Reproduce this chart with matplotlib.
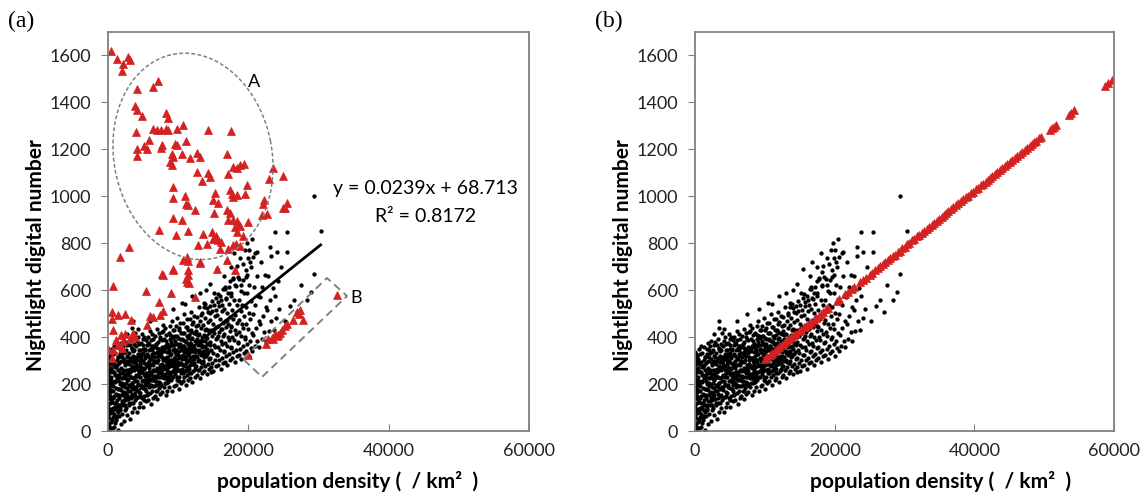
import numpy as np
import matplotlib.pyplot as plt

plt.rcParams['font.family'] = ['Lato', 'DejaVu Sans']

# ---- data (population density, nightlight DN) ----

# black points, dense band x < 9500
black_left = [
    (50, 5), (120, 20), (300, 12), (80, 35), (420, 40), (200, 55), (30, 70), (350, 78), (150, 90), (460, 95),
    (60, 110), (260, 118), (400, 130), (110, 140), (320, 150), (20, 160), (220, 168), (480, 175), (90, 188),
    (380, 195), (170, 205), (10, 215), (290, 222), (440, 230), (70, 240), (240, 250), (360, 258), (130, 265),
    (470, 270), (30, 280), (200, 288), (330, 295), (100, 302), (410, 308), (50, 315), (260, 320), (160, 330),
    (0, 338), (380, 262), (0, 100), (0, 180), (0, 250), (0, 30), (250, 0), (450, 300),
    (620, 12), (1380, 5), (980, 33), (540, 48), (1210, 57), (860, 71), (1460, 80), (700, 96), (1030, 104),
    (580, 123), (1320, 131), (910, 147), (1130, 156), (660, 169), (1420, 178), (780, 193), (1060, 207),
    (530, 214), (1270, 226), (940, 238), (710, 251), (1390, 259), (1150, 271), (600, 284), (840, 292),
    (1240, 303), (1480, 316), (690, 327), (1010, 334), (560, 349), (1330, 356), (880, 362), (1190, 118),
    (760, 61), (1090, 183), (1440, 231), (640, 199), (820, 17), (1280, 90), (970, 276),
    (1840, 28), (2270, 44), (1560, 63), (2030, 71), (2420, 88), (1710, 99), (2150, 112), (1930, 127),
    (2360, 141), (1620, 152), (2080, 164), (1790, 176), (2480, 189), (2210, 197), (1530, 211), (1980, 226),
    (2330, 233), (1680, 247), (2120, 259), (1870, 268), (2440, 282), (1590, 291), (2260, 306), (2000, 314),
    (1750, 329), (2390, 337), (1650, 351), (2170, 362), (1920, 374), (2310, 384), (1770, 110), (2050, 190),
    (1580, 240), (2460, 160), (1890, 300),
    (3180, 52), (2720, 68), (3420, 81), (2580, 97), (3010, 109), (3290, 121), (2850, 136), (2530, 147),
    (3360, 158), (3090, 171), (2680, 182), (2960, 194), (3470, 203), (2790, 219), (3220, 228), (2560, 241),
    (3120, 253), (2890, 262), (3400, 277), (2640, 289), (3050, 297), (3310, 311), (2760, 319), (2990, 333),
    (2600, 344), (3440, 353), (3150, 368), (2830, 381), (3260, 393), (2700, 412), (3380, 438), (2920, 240),
    (3230, 140),
    (4120, 82), (3680, 97), (4390, 104), (3540, 121), (3910, 133), (4270, 146), (3790, 154), (4480, 168),
    (3620, 179), (4050, 186), (4330, 201), (3850, 213), (3570, 226), (4190, 234), (4440, 247), (3730, 258),
    (3980, 271), (4360, 279), (3600, 293), (4080, 302), (3820, 317), (4240, 326), (3520, 339), (4420, 347),
    (3940, 361), (3690, 372), (4150, 384), (4310, 399), (3800, 416), (4220, 435), (3660, 265), (4020, 140),
    (5030, 103), (4620, 118), (5380, 126), (4830, 139), (5190, 151), (4540, 163), (5460, 172), (4970, 184),
    (4710, 195), (5280, 207), (5090, 219), (4590, 228), (5350, 241), (4880, 252), (5150, 264), (4660, 273),
    (5420, 286), (4930, 297), (5220, 309), (4760, 318), (5050, 331), (4570, 343), (5310, 351), (4990, 366),
    (4690, 377), (5400, 389), (5120, 402), (4840, 414), (5260, 180), (4620, 300),
    (6170, 117), (5730, 131), (6440, 140), (5580, 152), (5960, 164), (6290, 171), (5840, 186), (6060, 197),
    (5520, 209), (6380, 217), (5690, 232), (6130, 239), (5910, 253), (6470, 262), (5610, 276), (6240, 284),
    (5790, 297), (6020, 306), (6340, 321), (5550, 330), (5880, 343), (6190, 352), (6420, 363), (5740, 377),
    (6080, 386), (5640, 402), (6310, 415), (5990, 428), (5820, 250), (6260, 330),
    (7040, 136), (6630, 151), (7370, 158), (6850, 172), (7210, 183), (6540, 191), (7460, 204), (6910, 213),
    (7120, 228), (6720, 236), (7300, 247), (6580, 261), (7000, 268), (7420, 281), (6790, 292), (7170, 303),
    (6660, 314), (7350, 321), (6950, 336), (7230, 348), (6560, 357), (6880, 371), (7080, 379), (7440, 392),
    (6700, 406), (7260, 417), (6960, 433), (6620, 300), (7330, 200),
    (8210, 152), (7660, 166), (8420, 171), (7920, 187), (7530, 198), (8080, 206), (8340, 221), (7760, 229),
    (8150, 243), (7590, 254), (8470, 261), (7990, 276), (7700, 284), (8270, 297), (7870, 309), (8390, 316),
    (7560, 331), (8040, 339), (7810, 353), (8190, 364), (8460, 372), (7640, 386), (7950, 394), (8310, 408),
    (7740, 421), (8100, 437), (7900, 452), (8370, 245), (7580, 340),
    (9130, 170), (8680, 186), (9420, 192), (8560, 207), (8940, 216), (9280, 231), (8770, 239), (9050, 253),
    (9460, 261), (8620, 272), (9190, 283), (8870, 294), (8530, 305), (9340, 313), (9010, 326), (8720, 337),
    (9240, 346), (8590, 358), (9400, 367), (8980, 381), (8810, 392), (9160, 404), (8650, 418), (9310, 429),
    (8900, 447), (9080, 468), (9450, 300), (8740, 220),
]

# black points, band 9500 - 20500
black_mid = [
    (10080, 181), (9640, 196), (10380, 203), (9820, 219), (10190, 228), (9530, 241), (10450, 249), (9920, 262),
    (9710, 271), (10290, 285), (10030, 293), (9580, 306), (10410, 314), (9860, 327), (10150, 339), (9680, 346),
    (10340, 359), (9960, 371), (9550, 383), (10220, 391), (9790, 406), (10470, 418), (10060, 431), (9620, 446),
    (10310, 459), (9890, 482), (10130, 260), (9750, 370),
    (11060, 197), (10640, 211), (11390, 219), (10820, 231), (11210, 240), (10530, 254), (11460, 263),
    (10950, 275), (10710, 283), (11290, 297), (11010, 308), (10580, 319), (11410, 327), (10860, 339),
    (11140, 351), (10680, 362), (11340, 371), (10920, 384), (10560, 393), (11230, 406), (10780, 418),
    (11470, 431), (11050, 444), (10620, 461), (11310, 478), (10890, 497),
    (12030, 210), (11620, 226), (12390, 231), (11830, 246), (12180, 257), (11540, 263), (12460, 277),
    (11940, 286), (11720, 298), (12290, 307), (12070, 319), (11580, 331), (12420, 338), (11860, 352),
    (12140, 361), (11680, 373), (12350, 384), (11990, 396), (11560, 407), (12240, 419), (11790, 432),
    (12480, 446), (12050, 463), (11640, 478), (12310, 492), (11900, 508),
    (13070, 226), (12640, 240), (13410, 249), (12850, 259), (13220, 271), (12540, 279), (13470, 291),
    (12960, 302), (12720, 314), (13300, 322), (13040, 334), (12590, 343), (13380, 357), (12880, 366),
    (13160, 378), (12680, 390), (13440, 401), (12990, 413), (12560, 426), (13250, 438), (12800, 453),
    (13110, 468), (12620, 486), (13350, 504), (12920, 528),
    (14040, 241), (13630, 255), (14380, 263), (13840, 276), (14210, 284), (13550, 297), (14460, 305),
    (13950, 318), (13720, 329), (14280, 338), (14090, 351), (13590, 362), (14410, 373), (13880, 385),
    (14160, 398), (13680, 409), (14350, 422), (13990, 436), (13570, 450), (14240, 466), (13810, 483),
    (14470, 501), (14060, 522), (13650, 546), (14300, 430),
    (15010, 256), (14620, 271), (15390, 279), (14830, 290), (15190, 301), (14560, 313), (15470, 322),
    (14940, 334), (14710, 345), (15280, 357), (15060, 368), (14590, 380), (15420, 392), (14870, 403),
    (15140, 417), (14680, 430), (15350, 443), (14990, 458), (14540, 474), (15230, 491), (14790, 512),
    (15100, 538), (15440, 566), (14650, 250),
    (16040, 266), (15640, 281), (16390, 290), (15830, 303), (16200, 312), (15560, 325), (16470, 336),
    (15950, 347), (15720, 359), (16290, 370), (16080, 383), (15600, 395), (16430, 406), (15870, 420),
    (16150, 433), (15690, 447), (16360, 461), (15980, 477), (15540, 494), (16240, 513), (15800, 534),
    (16110, 559), (15660, 583), (16400, 607),
    (17030, 281), (16620, 296), (17380, 304), (16840, 318), (17210, 329), (16560, 341), (17460, 352),
    (16950, 364), (16720, 377), (17290, 389), (17060, 401), (16590, 414), (17420, 427), (16880, 441),
    (17160, 455), (16680, 470), (17350, 486), (16990, 503), (16540, 521), (17240, 542), (16800, 565),
    (17110, 590), (16650, 612), (17400, 638),
    (18040, 296), (17630, 312), (18390, 321), (17850, 336), (18210, 347), (17560, 360), (18470, 373),
    (17960, 387), (17720, 400), (18290, 414), (18070, 429), (17600, 444), (18420, 460), (17880, 477),
    (18150, 495), (17680, 514), (18350, 536), (17990, 560), (17540, 587), (18240, 617), (17810, 648),
    (18120, 678),
    (19020, 307), (18630, 324), (19380, 334), (18850, 350), (19210, 363), (18560, 378), (19460, 392),
    (18940, 406), (18720, 423), (19290, 438), (19070, 455), (18600, 472), (19420, 491), (18890, 512),
    (19160, 536), (18680, 560), (19340, 588), (18970, 622), (18540, 657), (19250, 712),
    (20030, 321), (19640, 339), (20390, 352), (19850, 369), (20200, 385), (19560, 401), (20460, 418),
    (19940, 436), (19720, 455), (20280, 477), (20070, 501), (19600, 527), (20420, 554), (19880, 588),
    (20150, 622), (19680, 658), (20350, 697), (19960, 736),
]

# extra black points filling the core of the cloud
black_core = [
    (1120, 46), (1730, 88), (2380, 133), (2890, 170), (3460, 205), (3970, 238), (4580, 262), (5130, 288),
    (5690, 318), (6240, 347), (6810, 371), (7370, 402), (7890, 425), (1290, 155), (1950, 203), (2560, 262),
    (3170, 300), (3740, 343), (4410, 371), (4960, 394), (5510, 222), (6120, 251), (6670, 215), (7230, 263),
    (7790, 301), (8410, 335), (8960, 372), (9530, 403), (10140, 437), (10780, 361), (11370, 395), (11860, 339),
    (1460, 317), (2020, 346), (2710, 365), (3330, 228), (3890, 187), (4490, 148), (5080, 131), (5640, 159),
    (6330, 190), (6950, 172), (7540, 195), (8130, 228), (8690, 253), (9250, 278), (9870, 231), (10490, 266),
    (11130, 289), (11720, 316), (1040, 273), (1610, 230), (2240, 295), (2830, 317), (3520, 274), (4140, 308),
    (4730, 329), (5290, 346), (5850, 371), (6460, 392), (7080, 326), (7660, 358), (8270, 384), (8840, 409),
    (9420, 431), (10010, 396), (10620, 418), (11240, 441), (11950, 457), (1350, 62), (2460, 112), (3060, 118),
    (3630, 151), (4260, 196), (4860, 212), (5420, 247), (6010, 281), (6590, 300), (7140, 319), (7720, 241),
    (8320, 276), (8910, 302), (9480, 337), (10090, 356), (10700, 314), (11290, 337), (11840, 371), (880, 120),
    (1560, 180), (2150, 248), (2740, 223), (3380, 262), (4050, 287), (4650, 306), (5240, 234), (5780, 267),
    (6390, 236), (6990, 257), (7610, 283), (8210, 312), (8780, 323), (9360, 351), (9980, 282), (10570, 305),
    (11160, 260), (11650, 283), (12250, 352), (12800, 381), (13350, 335), (13900, 402), (14500, 367),
    (15100, 434), (15700, 405), (16300, 436), (16900, 472), (17500, 447),
    (730, 142), (1180, 238), (1670, 321), (2090, 129), (2520, 205), (2980, 284), (3410, 351), (3860, 229),
    (4330, 261), (4780, 187), (5210, 319), (5670, 204), (6140, 305), (6580, 256), (7030, 353), (7480, 231),
    (7950, 349), (8390, 289), (8830, 362), (9290, 254), (9740, 322), (10210, 309), (10660, 388), (11100, 318),
    (11560, 356), (12010, 303), (12480, 413), (12930, 343), (13380, 383), (13820, 358),
    (950, 211), (1420, 111), (1880, 265), (2310, 168), (2770, 300), (3240, 187), (3690, 306), (4150, 213),
    (4610, 284), (5060, 244), (5520, 367), (5970, 222), (6430, 281), (6890, 195), (7340, 341), (7800, 271),
    (8250, 203), (8700, 345), (9160, 231), (9610, 285), (10060, 215), (10520, 344), (10980, 255), (11430, 301),
    (11890, 392), (12350, 266), (12800, 298), (13250, 365), (13700, 317), (14150, 327),
    (590, 82), (1050, 92), (1520, 140), (1980, 155), (2440, 226), (2900, 245), (3360, 196), (3820, 293),
    (4270, 321), (4730, 252), (5180, 269), (5640, 290), (6100, 218), (6550, 331), (7010, 296), (7460, 268),
    (7920, 226), (8380, 358), (8830, 279), (9290, 398), (9750, 254), (10200, 372), (10660, 246), (11120, 379),
    (11570, 248), (12030, 339), (12490, 318), (12940, 262), (13400, 291), (13860, 431),
    (810, 250), (1270, 280), (1730, 200), (2190, 332), (2650, 153), (3110, 266), (3570, 318), (4030, 175),
    (4490, 230), (4950, 348), (5410, 196), (5870, 240), (6320, 364), (6780, 229), (7240, 209), (7700, 314),
    (8160, 270), (8620, 231), (9080, 366), (9540, 269), (10000, 324), (10460, 290), (10920, 350), (11380, 274),
    (11840, 421), (12300, 289), (12760, 407), (13210, 295), (13670, 341), (14130, 372),
]

# black points, sparse tail x > 20500
black_right = [
    (20550, 340), (20900, 362), (21300, 385), (20700, 410), (21100, 438), (21450, 468), (20600, 500),
    (21000, 535), (21350, 575), (20800, 615), (21200, 660), (21000, 760),
    (21550, 360), (21900, 390), (22300, 420), (21700, 455), (22100, 490), (22450, 530), (21600, 570),
    (22000, 615), (22350, 665), (21800, 720),
    (22550, 385), (22900, 425), (23300, 470), (22700, 515), (23100, 560), (23450, 610), (22800, 660),
    (23200, 745),
    (23600, 430), (24000, 480), (24400, 520), (23800, 575), (24200, 640), (24700, 700), (23800, 848),
    (24100, 763),
    (25500, 848), (25500, 763), (25200, 470), (25900, 532), (26500, 560), (27000, 505), (28300, 560),
    (28880, 593), (29350, 671), (29400, 1000), (30300, 851), (27500, 620),
]

# black points scattered above the band
black_upper = [
    (9200, 520), (10500, 545), (12000, 575), (13100, 586), (14535, 628), (15500, 692), (16500, 660),
    (17500, 700), (18850, 735), (19500, 770), (20040, 770), (21240, 763), (23150, 784), (6000, 470),
    (3500, 470), (7500, 500), (11000, 540), (14000, 600), (16800, 720), (18000, 760), (19800, 800),
    (20500, 820),
    (13300, 495), (13620, 527), (13870, 541), (14230, 509), (14480, 533), (14760, 556), (15140, 589),
    (15380, 517), (15730, 548), (16010, 574), (16270, 537), (16640, 603), (16860, 561), (17190, 613),
    (17530, 577), (17760, 652), (18130, 624), (18380, 703), (18740, 648), (19020, 597), (19280, 643),
    (19630, 688), (19870, 663), (20230, 718), (20610, 741),
]

# red triangles in (a): cluster A and the rest
red_a_upper = [
    (380, 1618), (1235, 1585), (2185, 1564), (2900, 1595), (3135, 1581), (1950, 1533), (4085, 1456),
    (6365, 1465), (7170, 1490), (3850, 1383), (4180, 1368), (4800, 1340), (8220, 1354), (8600, 1334),
    (3990, 1274), (6460, 1288), (6935, 1283), (7505, 1283), (8265, 1286), (8600, 1281), (9785, 1286),
    (10640, 1305), (14200, 1281), (17480, 1278), (5890, 1238), (4085, 1203), (4085, 1171), (5180, 1213),
    (5510, 1203), (7650, 1217), (7550, 1207), (9550, 1221), (9880, 1217), (11115, 1235), (9070, 1181),
    (10500, 1181), (9215, 1167), (11685, 1163), (12635, 1184), (13110, 1167), (8835, 1146), (9070, 1132),
    (12730, 1103), (14300, 1099), (14535, 1082), (13350, 1064), (16910, 1181), (17050, 1096), (17860, 1125),
    (18335, 1122), (18810, 1132), (19380, 1139), (23560, 1122), (24890, 1088), (22990, 1074), (19855, 1047),
    (9215, 1040), (9215, 994), (10970, 1000), (11115, 969), (11450, 962), (12400, 943), (15250, 1014),
    (15010, 986), (15720, 971), (17385, 1028), (17620, 1011), (17860, 997), (18335, 1004), (19520, 1008),
    (22280, 986), (22040, 969), (25460, 971), (25220, 952), (24985, 948), (9215, 908), (10500, 898),
    (15105, 929), (16910, 943), (17385, 929), (17150, 898), (17860, 901), (18335, 895), (18570, 884),
    (18100, 870), (18810, 872), (19990, 891), (21900, 919), (22610, 926), (11450, 852), (7315, 855),
    (9690, 834), (13585, 838), (14770, 848), (15010, 820), (15390, 830), (15720, 813), (16055, 806),
    (18335, 848), (19285, 830), (18240, 798), (14060, 798), (12870, 791), (17150, 777), (17860, 791),
    (18810, 787), (11210, 742), (11450, 723), (10735, 730), (13110, 720), (15960, 777), (16910, 730),
    (1710, 742), (3040, 784), (7790, 664), (9310, 689), (11450, 685), (11450, 664), (15485, 692),
    (18100, 685),
]
red_a_lower = [
    (760, 617), (5415, 597), (7650, 668), (9215, 688), (8930, 586), (11115, 649), (11305, 635),
    (11590, 631), (13110, 716), (12400, 571), (7315, 550), (7790, 512), (7410, 493), (5985, 489),
    (6460, 486), (5510, 451), (3230, 472), (2420, 498), (1470, 494), (520, 508), (520, 479), (665, 430),
    (1805, 408), (2420, 415), (3610, 418), (3850, 401), (2185, 384), (1470, 366), (1950, 352), (760, 345),
    (520, 309), (1140, 387), (190, 345), (3135, 394),
    # group B
    (19995, 323), (22470, 370), (22850, 390), (23320, 398), (23560, 390), (24035, 404), (24270, 408),
    (23800, 415), (24510, 418), (24750, 430), (25220, 447), (25460, 455), (26315, 475), (26885, 508),
    (27360, 515), (27835, 475), (27265, 498), (32585, 579),
]

# red triangles in (b): corrected points on the fitted line
red_b_x = [10000, 10300, 10700, 11000, 11400, 11700, 12100, 12400, 12800, 13100, 13500, 13800, 14200,
           14500, 14900, 15200, 15600, 15900, 16300, 16600, 17000, 17300, 17700, 18000, 18400, 18800,
           19100, 20300, 20600, 21500, 21900, 22500, 22800, 23600, 24000, 24500, 25000, 25300, 25800,
           26200, 26500, 26900, 27200, 27600, 27900, 28300, 28600, 29000, 29300, 29700, 30000, 30400,
           30700, 31100, 31400, 31800, 32100, 32500, 32800, 33200, 33500, 33900, 34200, 34600, 34900,
           35300, 35600, 36000, 36300, 36700, 37000, 37400, 37700, 38100, 38400, 38800, 39100, 39500,
           39800, 40200, 40500, 40900, 41200, 41600, 41900, 42300, 42600, 43000, 43300, 43700, 44000,
           44400, 44700, 45100, 45400, 45800, 46100, 46500, 46800, 47200, 47500, 47900, 48200, 48600,
           48900, 49300, 49600, 50800, 51100, 51400, 51700, 53500, 53900, 54300, 58700, 59200, 59700]
red_b_y = [308, 315, 324, 332, 341, 348, 358, 365, 375, 382, 391, 399, 408,
           415, 425, 432, 442, 449, 458, 465, 475, 482, 492, 499, 508, 518,
           525, 554, 561, 583, 592, 606, 614, 633, 642, 654, 666, 673, 685,
           695, 702, 712, 719, 728, 736, 745, 752, 762, 769, 779, 786, 795,
           802, 812, 819, 829, 836, 845, 853, 862, 869, 879, 886, 896, 903,
           912, 920, 929, 936, 946, 953, 963, 970, 979, 987, 996, 1003, 1013,
           1020, 1030, 1037, 1046, 1053, 1063, 1070, 1080, 1087, 1096, 1104, 1113, 1120,
           1130, 1137, 1147, 1154, 1163, 1170, 1180, 1187, 1197, 1204, 1214, 1221, 1230,
           1237, 1247, 1254, 1283, 1290, 1297, 1304, 1347, 1357, 1366, 1472, 1484, 1496]

# linear fit shown in (a)
slope = 0.0239
intercept = 68.713
fit_x_max = 30300

# outline of group B (corners)
box_b = [(19240, 307), (31210, 652), (34060, 575), (21950, 230)]

RED = '#d42222'
GRAY = '#808080'

black_pts = np.array(black_left + black_mid + black_core + black_right + black_upper)
red_a_pts = np.array(red_a_upper + red_a_lower)


def style_axes(ax):
    ax.set_xlim(0, 60000)
    ax.set_ylim(0, 1700)
    ax.set_xticks([0, 20000, 40000, 60000])
    ax.set_yticks(range(0, 1601, 200))
    ax.tick_params(axis='x', direction='in', length=5, pad=9, labelsize=13,
                   color=GRAY, labelcolor='#222222')
    ax.tick_params(axis='y', direction='out', length=5, pad=7, labelsize=13,
                   color=GRAY, labelcolor='#222222')
    for sp in ax.spines.values():
        sp.set_color(GRAY)
        sp.set_linewidth(1.3)
    ax.set_ylabel('Nightlight digital number', fontsize=15, fontweight='bold')
    ax.set_xlabel('population density (  / km²  )', fontsize=15, fontweight='bold')
    ax.yaxis.set_label_coords(-0.148, 0.44)
    ax.xaxis.set_label_coords(0.57, -0.1)


fig = plt.figure(figsize=(11.43, 4.99), dpi=100)
ax_a = fig.add_axes([108 / 1143, 68 / 499, 421 / 1143, 399 / 499])
ax_b = fig.add_axes([695 / 1143, 68 / 499, 419 / 1143, 399 / 499])

# ---- panel (a)
ax_a.plot(black_pts[:, 0], black_pts[:, 1], 'o', color='black', ms=3.1, mec='none')
ax_a.plot(red_a_pts[:, 0], red_a_pts[:, 1], '^', color=RED, ms=5.2, mec=RED, mew=0.5)
fx = np.array([0, fit_x_max])
ax_a.plot(fx, slope * fx + intercept, color='black', lw=2)

# dashed ellipse around group A (drawn in pixel units, converted to data)
px_x = 60000 / 421
px_y = 1700 / 399
t = np.linspace(0, 2 * np.pi, 300)
th = np.deg2rad(11)
ux, uy = 79 * np.cos(t), 104 * np.sin(t)
ex = 12110 + (ux * np.cos(th) - uy * np.sin(th)) * px_x
ey = 1170 + (ux * np.sin(th) + uy * np.cos(th)) * px_y
ax_a.plot(ex, ey, color=GRAY, lw=1.1, dashes=(2.5, 1.5))

bx = [p[0] for p in box_b] + [box_b[0][0]]
by = [p[1] for p in box_b] + [box_b[0][1]]
ax_a.plot(bx, by, color=GRAY, lw=1.4, dashes=(4, 2.5))

ax_a.text(20800, 1487, 'A', fontsize=13, ha='center', va='center')
ax_a.text(35300, 567, 'B', fontsize=13, ha='center', va='center')
ax_a.text(45300, 1035, 'y = 0.0239x + 68.713', fontsize=14, ha='center', va='center')
ax_a.text(45300, 912, 'R² = 0.8172', fontsize=14, ha='center', va='center')
style_axes(ax_a)

# ---- panel (b)
ax_b.plot(black_pts[:, 0], black_pts[:, 1], 'o', color='black', ms=3.1, mec='none')
ax_b.plot(red_b_x, red_b_y, '^', color=RED, ms=5.5, mec=RED, mew=0.5)
style_axes(ax_b)
ax_b.xaxis.set_label_coords(0.585, -0.1)

fig.text(8 / 1143, 1 - 21 / 499, '(a)', fontsize=17, family='Liberation Serif', va='center')
fig.text(595 / 1143, 1 - 21 / 499, '(b)', fontsize=17, family='Liberation Serif', va='center')

plt.savefig('out.png', dpi=100)
